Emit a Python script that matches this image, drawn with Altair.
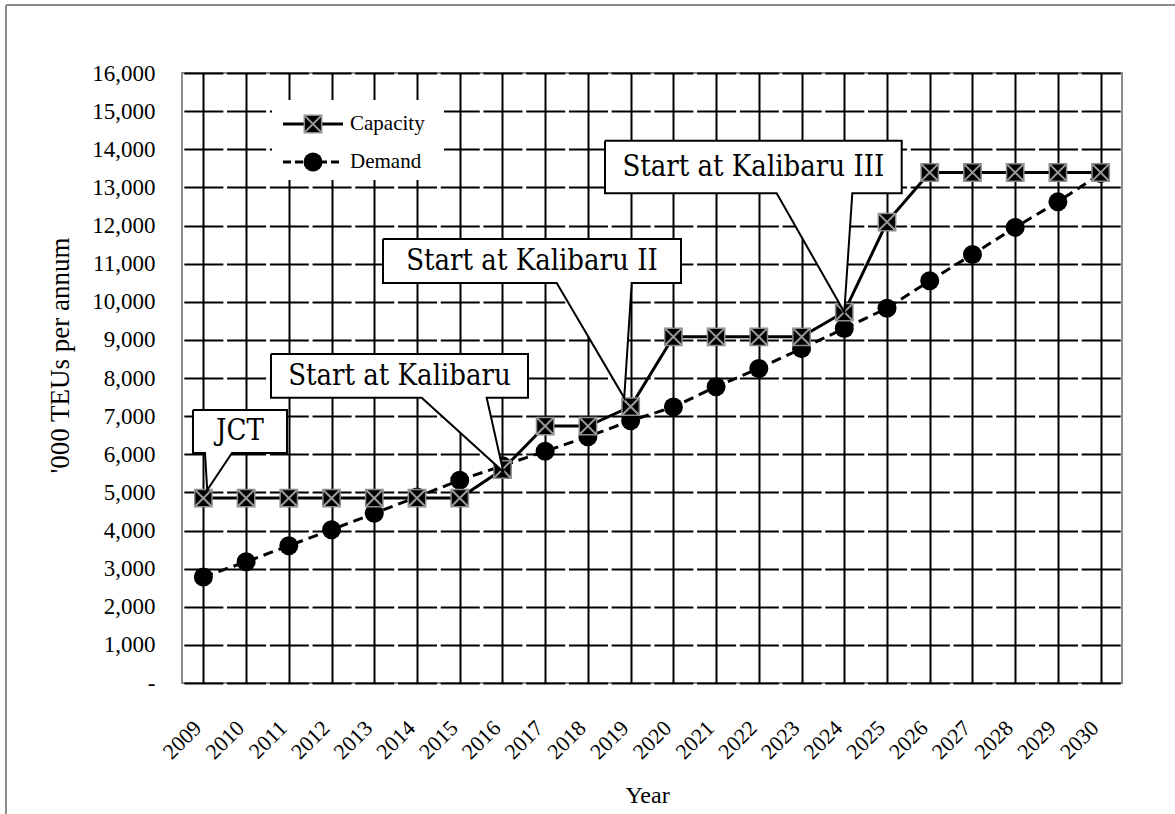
import altair as alt
import pandas as pd

# Container throughput at Tanjung Priok: capacity vs. demand, '000 TEU per year
years = list(range(2009, 2031))
capacity = [4850, 4850, 4850, 4850, 4850, 4850, 4850, 5600, 6740, 6740, 7250,
            9080, 9080, 9080, 9080, 9730, 12090, 13390, 13390, 13390, 13390, 13390]
demand = [2780, 3180, 3600, 4020, 4450, 4880, 5320, 5700, 6080, 6460, 6880,
          7240, 7770, 8250, 8770, 9300, 9830, 10550, 11240, 11950, 12620, 13360]

y_ticks = list(range(0, 16001, 1000))

# Callout annotations: text, the year whose capacity point they mark,
# small shift of the pointer tip from that point (years, TEU)
callout_text = ["JCT", "Start at Kalibaru", "Start at Kalibaru II", "Start at Kalibaru III"]
callout_year = [2009, 2016, 2019, 2024]
callout_tip_shift = [(0.09, 210), (0.02, -60), (-0.15, 230), (0.0, 0)]
# box extent (x0, x1, y0, y1) and pointer base (left, right), in axis units
callout_box = [(2008.757, 2010.957, 6033, 7161),
               (2010.583, 2016.598, 7483, 8630),
               (2013.204, 2020.179, 10492, 11646),
               (2018.400, 2025.344, 12845, 14224)]
callout_base = [(2009.038, 2009.670),
                (2014.110, 2015.631),
                (2017.270, 2019.025),
                (2022.418, 2024.188)]

SERIF = "Liberation Serif"
CALLOUT_FONT = '"DejaVu Serif Condensed", "DejaVu Serif", serif'
FRAME_GREY = "#8c8c8c"
CROSS = "M-1,-1L1,1M-1,1L1,-1"

df = pd.DataFrame({"year": years, "capacity": capacity, "demand": demand})

# Build callout outlines (box with a wedge pointing at the point)
rows, labels = [], []
for i, (txt, yr) in enumerate(zip(callout_text, callout_year)):
    x0, x1, y0, y1 = callout_box[i]
    bl, br = callout_base[i]
    dx, dv = callout_tip_shift[i]
    tip = (yr + dx, capacity[years.index(yr)] + dv)
    pts = [(x0, y1), (x1, y1), (x1, y0), (br, y0), tip, (bl, y0), (x0, y0), (x0, y1)]
    for k, (px, py) in enumerate(pts):
        rows.append({"id": i, "k": k, "x": px, "y": py})
    labels.append({"text": txt, "x": (x0 + x1) / 2, "y": (y0 + y1) / 2})
callout_df = pd.DataFrame(rows)
label_df = pd.DataFrame(labels)

xscale = alt.Scale(domain=[2008.5, 2030.5], nice=False, zero=False)
yscale = alt.Scale(domain=[0, 16000], nice=False, zero=True)

x_axis = alt.Axis(
    values=years, format="d", labelAngle=315, labelAlign="right", labelBaseline="middle",
    labelPadding=41, labelOffset=-6, ticks=False, tickSize=0, domain=False,
    grid=True, gridColor="black", gridWidth=2, gridOpacity=1, labelOverlap=False,
    labelFont=SERIF, labelFontSize=22, labelColor="black",
    title="Year", titleFont=SERIF, titleFontSize=24, titleFontWeight="normal",
    titleColor="black", titleX=465, titleY=112, titleBaseline="middle",
)
y_axis = alt.Axis(
    values=y_ticks, labelExpr="datum.value == 0 ? '-' : format(datum.value, ',')",
    labelPadding=27, ticks=False, tickSize=0, domain=False, labelOverlap=False,
    grid=True, gridColor="black", gridWidth=2, gridOpacity=1,
    gridDash=[39.03, 3.7], gridDashOffset=40.88,
    labelFont=SERIF, labelFontSize=23, labelColor="black", labelBaseline="middle",
    title="'000 TEUs per annum", titleFont=SERIF, titleFontSize=27,
    titleFontWeight="normal", titleColor="black", titleAngle=270,
    titleX=-122, titleY=282, titleAlign="center", titleBaseline="middle",
)


def xenc(field):
    return alt.X(field, scale=xscale, axis=x_axis)


def yenc(field):
    return alt.Y(field, scale=yscale, axis=y_axis)


base = alt.Chart(df)

cap_line = base.mark_line(color="black", strokeWidth=3).encode(
    x=xenc("year:Q"), y=yenc("capacity:Q"))
dem_line = base.mark_line(color="black", strokeWidth=3, strokeDash=[10, 6]).encode(
    x=xenc("year:Q"), y=yenc("demand:Q"))
dem_pts = base.mark_circle(size=361, color="black", opacity=1).encode(
    x=xenc("year:Q"), y=yenc("demand:Q"))
cap_sq = base.mark_square(size=300, color="black", opacity=1, stroke=FRAME_GREY,
                          strokeWidth=1.5).encode(x=xenc("year:Q"), y=yenc("capacity:Q"))
cap_x = base.mark_point(shape=CROSS, size=300, filled=False,
                        color="#9a9a9a", strokeWidth=2, opacity=1).encode(
    x=xenc("year:Q"), y=yenc("capacity:Q"))

# Legend drawn in pixel space inside the plot
one = alt.Chart(pd.DataFrame({"a": [0]}))
leg_bg = one.mark_rect(fill="white").encode(
    x=alt.value(90), x2=alt.value(262), y=alt.value(27), y2=alt.value(107))
leg_cap_rule = one.mark_rule(color="black", strokeWidth=3).encode(
    x=alt.value(101), x2=alt.value(161), y=alt.value(51))
leg_cap_sq = one.mark_square(size=300, color="black", opacity=1, stroke=FRAME_GREY,
                             strokeWidth=1.5).encode(x=alt.value(131), y=alt.value(51))
leg_cap_x = one.mark_point(shape=CROSS, size=300, filled=False,
                           color="#9a9a9a", strokeWidth=2, opacity=1).encode(
    x=alt.value(131), y=alt.value(51))
leg_cap_txt = one.mark_text(text="Capacity", align="left", baseline="middle",
                            font=SERIF, fontSize=21, color="black").encode(
    x=alt.value(168), y=alt.value(51))
leg_dem_rule = one.mark_rule(color="black", strokeWidth=3, strokeDash=[8, 4]).encode(
    x=alt.value(101), x2=alt.value(161), y=alt.value(89))
leg_dem_pt = one.mark_circle(size=361, color="black", opacity=1).encode(
    x=alt.value(131), y=alt.value(89))
leg_dem_txt = one.mark_text(text="Demand", align="left", baseline="middle",
                            font=SERIF, fontSize=21, color="black").encode(
    x=alt.value(168), y=alt.value(89))

# Callouts
call_shape = alt.Chart(callout_df).mark_line(
    fill="white", stroke="black", strokeWidth=2, interpolate="linear"
).encode(
    x=xenc("x:Q"), y=yenc("y:Q"), detail="id:N", order="k:Q",
)
call_text = alt.Chart(label_df).mark_text(
    font=CALLOUT_FONT, fontSize=29, color="black", align="center", baseline="middle"
).encode(
    x=xenc("x:Q"), y=yenc("y:Q"), text="text:N",
)

# Outer border of the figure
frame_top = one.mark_rule(color=FRAME_GREY, strokeWidth=2).encode(
    x=alt.value(-176), x2=alt.value(993), y=alt.value(-68))
frame_left = one.mark_rule(color=FRAME_GREY, strokeWidth=2).encode(
    x=alt.value(-176), y=alt.value(-68), y2=alt.value(741))

chart = alt.layer(
    cap_line, dem_line, dem_pts, cap_sq, cap_x,
    leg_bg, leg_cap_rule, leg_cap_sq, leg_cap_x, leg_cap_txt,
    leg_dem_rule, leg_dem_pt, leg_dem_txt,
    call_shape, call_text, frame_top, frame_left,
).properties(
    width=940, height=610,
    padding={"left": 182, "top": 73, "right": 53, "bottom": 131},
    autosize=alt.AutoSizeParams(type="none"),
    background="white",
).configure_view(stroke=FRAME_GREY, strokeWidth=2)

chart.save("out.html", embed_options={"renderer": "svg", "actions": False})
